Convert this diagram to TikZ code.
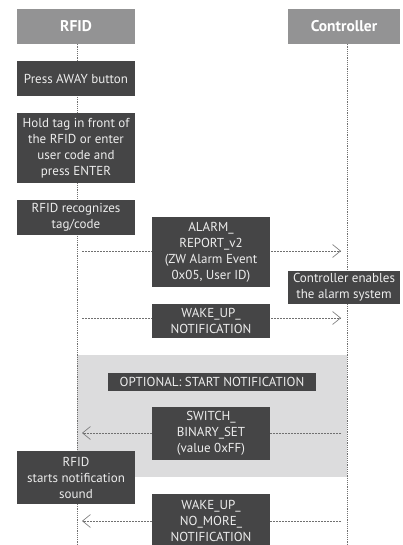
\documentclass[tikz,border=0pt]{standalone}
\usepackage{fontspec}
\setmainfont{PT Sans}
\usetikzlibrary{arrows.meta}
\definecolor{hdr}{HTML}{939394}
\definecolor{dark}{HTML}{454546}
\definecolor{band}{HTML}{DCDCDD}
\definecolor{txt}{HTML}{EDEDED}
\definecolor{dline}{HTML}{707070}
\tikzset{
  hdrbox/.style={fill=hdr, text=white, font=\bfseries\fontsize{15.5}{18}\selectfont, inner sep=0pt, minimum height=35pt},
  darkbox/.style={fill=dark, text=txt, font=\fontsize{13}{16}\selectfont, align=center, inner sep=0pt, minimum width=118pt},
  lifeline/.style={draw=dline, line width=0.5pt, dash pattern=on 1.2pt off 1pt},
  msg/.style={draw=dline, line width=0.5pt, dash pattern=on 2pt off 1pt, -{Straight Barb[length=8pt,width=13pt,line width=0.6pt]}},
}
\begin{document}
\begin{tikzpicture}[x=1pt,y=-1pt]
\useasboundingbox (0,0) rectangle (402,545);
\clip (0,0) rectangle (402,545);
% band
\fill[band] (77,355) rectangle (347,477);
% headers
\node[hdrbox, minimum width=118pt] (rfid) at (76,26.5) {RFID};
\node[hdrbox, minimum width=112pt] (ctrl) at (344,26.5) {Controller};
% lifelines
\coordinate (rfidend) at (77,545);
\coordinate (ctrlend) at (347,545);
\draw[lifeline] (rfid.south -| rfidend) -- (rfidend);
\draw[lifeline] (ctrl.south -| ctrlend) -- (ctrlend);
% messages
\coordinate (m1s) at (82,251); \coordinate (m1e) at (341,251);
\coordinate (m2s) at (82,318); \coordinate (m2e) at (341,318);
\coordinate (m3s) at (341,433); \coordinate (m3e) at (82,433);
\coordinate (m4s) at (341,521); \coordinate (m4e) at (82,521);
\draw[msg] (m1s) -- (m1e);
\draw[msg] (m2s) -- (m2e);
\draw[msg] (m3s) -- (m3e);
\draw[msg] (m4s) -- (m4e);
% boxes
\node[darkbox, minimum height=35pt] (press) at (76,78.5) {Press AWAY button};
\node[darkbox, minimum height=70pt] (hold) at (76,148) {Hold tag in front of\\the RFID or enter\\user code and\\press ENTER};
\node[darkbox, minimum height=35pt] (recog) at (76,217.5) {RFID recognizes\\tag/code};
\node[darkbox, minimum height=70pt] (alarm) at (211,252) {ALARM\_\\REPORT\_v2\\(ZW Alarm Event\\0x05, User ID)};
\node[darkbox, minimum width=112pt, minimum height=33pt] (enab) at (344,287.5) {Controller enables\\the alarm system};
\node[darkbox, minimum height=34pt] (wake) at (211,321) {WAKE\_UP\_\\NOTIFICATION};
\node[darkbox, minimum width=208pt, minimum height=18pt] (opt) at (212,382) {OPTIONAL: START NOTIFICATION};
\node[darkbox, minimum height=53pt] (sw) at (211,433.5) {SWITCH\_\\BINARY\_SET\\(value 0xFF)};
\node[darkbox, minimum height=53pt] (snd) at (76,477.5) {RFID\\starts notification\\sound};
\node[darkbox, minimum height=54pt] (nomore) at (211,521) {WAKE\_UP\_\\NO\_MORE\_\\NOTIFICATION};
\end{tikzpicture}
\end{document}
